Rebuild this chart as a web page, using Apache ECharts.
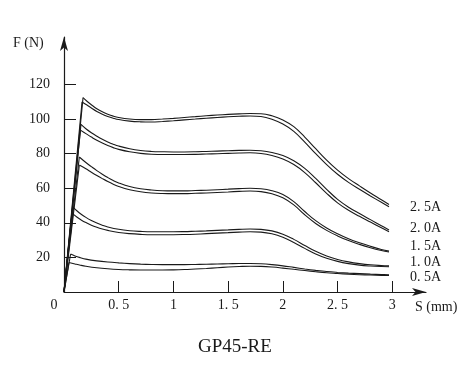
<!DOCTYPE html>
<html>
<head>
<meta charset="utf-8">
<script src="https://cdn.jsdelivr.net/npm/echarts@6/dist/echarts.min.js"></script>
<style>
html,body{margin:0;padding:0;background:#fff;}
#chart{width:461px;height:367px;}
</style>
</head>
<body>
<div id="chart"></div>
<script>
// Current labels
var currents = ['2. 5A', '2. 0A', '1. 5A', '1. 0A', '0. 5A'];

// Force F (N) vs stroke S (mm); each current gives an outer and an inner curve
var c25Outer = [[0.174,112.3],[0.21,110.2],[0.25,108.2],[0.3,105.9],[0.35,104.1],[0.4,102.7],[0.45,101.6],[0.5,100.8],[0.6,99.9],[0.7,99.6],[0.8,99.6],[0.9,99.9],[1.0,100.3],[1.1,100.8],[1.2,101.3],[1.3,101.8],[1.4,102.2],[1.5,102.6],[1.6,102.9],[1.7,103.1],[1.8,103],[1.9,101.8],[2.0,99.4],[2.1,95.5],[2.2,89.5],[2.3,82.8],[2.4,76.2],[2.5,70.4],[2.6,65.5],[2.7,61.3],[2.8,57.2],[2.9,53.3],[2.97,50.5]];
var c25Inner = [[0.165,109.8],[0.21,108],[0.25,106.3],[0.3,104.3],[0.35,102.7],[0.4,101.4],[0.45,100.4],[0.5,99.6],[0.6,98.7],[0.7,98.3],[0.8,98.2],[0.9,98.5],[1.0,98.9],[1.1,99.4],[1.2,99.9],[1.3,100.4],[1.4,100.8],[1.5,101.2],[1.6,101.5],[1.7,101.7],[1.8,101.4],[1.9,99.8],[2.0,97],[2.1,92.8],[2.2,86.6],[2.3,79.9],[2.4,73.6],[2.5,68],[2.6,63.3],[2.7,59.3],[2.8,55.5],[2.9,51.8],[2.97,49.2]];

var c20Outer = [[0.155,96.8],[0.2,94.3],[0.25,92],[0.3,90],[0.35,88.2],[0.4,86.7],[0.45,85.4],[0.5,84.3],[0.6,82.7],[0.7,81.7],[0.8,81.2],[0.9,81],[1.0,80.9],[1.1,80.9],[1.2,81],[1.3,81.2],[1.4,81.4],[1.5,81.6],[1.6,81.8],[1.7,81.9],[1.8,81.6],[1.9,80.6],[2.0,78.8],[2.1,75.8],[2.2,71.4],[2.3,65.6],[2.4,59.3],[2.5,53.5],[2.6,49],[2.7,45.3],[2.8,41.8],[2.9,38.3],[2.97,35.8]];
var c20Inner = [[0.15,93.5],[0.2,91.5],[0.25,89.5],[0.3,87.6],[0.35,86],[0.4,84.6],[0.45,83.4],[0.5,82.4],[0.6,81],[0.7,80.1],[0.8,79.6],[0.9,79.4],[1.0,79.4],[1.1,79.4],[1.2,79.5],[1.3,79.7],[1.4,79.9],[1.5,80.1],[1.6,80.3],[1.7,80.4],[1.8,80],[1.9,78.8],[2.0,76.8],[2.1,73.6],[2.2,69],[2.3,63.1],[2.4,57],[2.5,51.5],[2.6,47.2],[2.7,43.7],[2.8,40.4],[2.9,37.1],[2.97,34.8]];

var c15Outer = [[0.14,78],[0.2,74.8],[0.25,72.4],[0.3,70.1],[0.35,68],[0.4,66.1],[0.45,64.4],[0.5,63],[0.6,60.9],[0.7,59.6],[0.8,58.9],[0.9,58.5],[1.0,58.4],[1.1,58.4],[1.2,58.6],[1.3,58.8],[1.4,59.1],[1.5,59.4],[1.6,59.7],[1.7,59.9],[1.8,59.6],[1.9,58.5],[2.0,56.3],[2.1,52.2],[2.2,46.5],[2.3,41.2],[2.4,37],[2.5,33.6],[2.6,30.7],[2.7,28.4],[2.8,26.4],[2.9,24.6],[2.97,23.6]];
var c15Inner = [[0.14,73.3],[0.2,71.2],[0.25,69.2],[0.3,67.3],[0.35,65.5],[0.4,63.8],[0.45,62.3],[0.5,61],[0.6,59.1],[0.7,57.9],[0.8,57.2],[0.9,56.9],[1.0,56.8],[1.1,56.8],[1.2,57],[1.3,57.2],[1.4,57.5],[1.5,57.8],[1.6,58.1],[1.7,58.3],[1.8,58],[1.9,56.8],[2.0,54.4],[2.1,50.3],[2.2,44.6],[2.3,39.6],[2.4,35.6],[2.5,32.4],[2.6,29.7],[2.7,27.5],[2.8,25.6],[2.9,24],[2.97,23.1]];

var c10Outer = [[0.08,49.2],[0.12,46.8],[0.16,44.8],[0.2,43.1],[0.25,41.3],[0.3,39.8],[0.35,38.6],[0.4,37.6],[0.5,36.2],[0.6,35.4],[0.7,35],[0.8,34.8],[0.9,34.8],[1.0,34.8],[1.1,34.9],[1.2,35.1],[1.3,35.3],[1.4,35.6],[1.5,35.9],[1.6,36.2],[1.7,36.4],[1.8,36.2],[1.9,35.3],[2.0,33.4],[2.1,30.4],[2.2,26.9],[2.3,23.5],[2.4,20.8],[2.5,18.8],[2.6,17.4],[2.7,16.4],[2.8,15.7],[2.9,15.3],[2.97,15.1]];
var c10Inner = [[0.075,45.4],[0.12,43.2],[0.16,41.5],[0.2,40.1],[0.25,38.6],[0.3,37.4],[0.35,36.4],[0.4,35.6],[0.5,34.4],[0.6,33.7],[0.7,33.3],[0.8,33.1],[0.9,33.1],[1.0,33.1],[1.1,33.2],[1.2,33.4],[1.3,33.7],[1.4,34],[1.5,34.3],[1.6,34.6],[1.7,34.8],[1.8,34.6],[1.9,33.6],[2.0,31.6],[2.1,28.6],[2.2,25.2],[2.3,22],[2.4,19.5],[2.5,17.7],[2.6,16.4],[2.7,15.5],[2.8,15],[2.9,14.7],[2.97,14.6]];

var c05Outer = [[0.06,21.9],[0.1,20.8],[0.15,19.8],[0.2,19],[0.3,18],[0.4,17.3],[0.5,16.8],[0.6,16.4],[0.7,16.1],[0.8,15.9],[0.9,15.8],[1.0,15.8],[1.1,15.8],[1.2,15.9],[1.3,16],[1.4,16.2],[1.5,16.3],[1.6,16.5],[1.7,16.5],[1.8,16.3],[1.9,15.8],[2.0,15.1],[2.1,14.2],[2.2,13.3],[2.3,12.5],[2.4,11.8],[2.5,11.3],[2.6,10.9],[2.7,10.6],[2.8,10.3],[2.9,10.1],[2.97,10]];
var c05Inner = [[0.045,17],[0.1,16.2],[0.15,15.5],[0.2,14.9],[0.3,14],[0.4,13.4],[0.5,13],[0.6,12.8],[0.7,12.7],[0.8,12.7],[0.9,12.7],[1.0,12.8],[1.1,13],[1.2,13.3],[1.3,13.6],[1.4,14],[1.5,14.4],[1.6,14.7],[1.7,14.9],[1.8,14.8],[1.9,14.4],[2.0,13.8],[2.1,13.1],[2.2,12.4],[2.3,11.7],[2.4,11.1],[2.5,10.7],[2.6,10.3],[2.7,10],[2.8,9.8],[2.9,9.6],[2.97,9.5]];

var origin = [0, 0];

// Axis ticks and labels
var xTickValues = [0, 0.5, 1, 1.5, 2, 2.5, 3];
var xTickLabels = ['0', '0. 5', '1', '1. 5', '2', '2. 5', '3'];
var yTickValues = [20, 40, 60, 80, 100, 120];
var yTickLabels = ['20', '40', '60', '80', '100', '120'];

var outerCurves = [c25Outer, c20Outer, c15Outer, c10Outer, c05Outer];
var innerCurves = [c25Inner, c20Inner, c15Inner, c10Inner, c05Inner];

var FONT = '"Liberation Serif", "DejaVu Serif", serif';
var INK = '#1a1a1a';
// pixel nudges of the current labels relative to each curve's end
var labelDx = 21;
var labelDy = [2.5, -1.5, -5.3, -3.2, 2.2];

var series = [];
currents.forEach(function (name, i) {
  var lineStyle = { color: INK, width: 1.1 };
  series.push({
    type: 'line', name: name, data: outerCurves[i], smooth: 0.4, showSymbol: false, symbol: 'none',
    lineStyle: lineStyle, silent: true
  });
  series.push({
    type: 'line', data: innerCurves[i], smooth: 0.4, showSymbol: false, symbol: 'none',
    lineStyle: lineStyle, silent: true
  });
  series.push({
    type: 'line', data: [origin, outerCurves[i][0]], showSymbol: false, symbol: 'none',
    lineStyle: lineStyle, silent: true
  });
  series.push({
    type: 'line', data: [origin, innerCurves[i][0]], showSymbol: false, symbol: 'none',
    lineStyle: lineStyle, silent: true
  });
});

var chart = echarts.init(document.getElementById('chart'), null, { renderer: 'canvas' });
chart.setOption({
  animation: false,
  backgroundColor: '#ffffff',
  title: [
    { text: 'F (N)', left: 13, top: 36, padding: 0, textStyle: { fontFamily: FONT, fontSize: 14, fontWeight: 'normal', color: INK } },
    { text: 'S (mm)', left: 415, top: 300, padding: 0, textStyle: { fontFamily: FONT, fontSize: 14, fontWeight: 'normal', color: INK } },
    { text: 'GP45-RE', left: 198, top: 338, padding: 0, textStyle: { fontFamily: FONT, fontSize: 19, fontWeight: 'normal', color: INK } }
  ],
  grid: { left: 64, top: 37, width: 362, height: 255 },
  xAxis: {
    type: 'value', min: 0, max: 3.308,
    axisLine: { show: true, symbol: ['none', 'arrow'], symbolSize: [6, 14], lineStyle: { color: INK, width: 1.2 } },
    axisTick: { show: true, inside: true, length: 11, customValues: xTickValues.slice(1), lineStyle: { color: INK, width: 1 } },
    axisLabel: {
      show: true, customValues: xTickValues, margin: 6, color: INK, fontFamily: FONT, fontSize: 14,
      formatter: function (v) {
        var idx = xTickValues.indexOf(v);
        var t = idx >= 0 ? xTickLabels[idx] : '';
        return v === 0 ? '{o|' + t + '}' : t;
      },
      rich: { o: { padding: [0, 20, 0, 0], fontFamily: FONT, fontSize: 14, color: INK } }
    },
    splitLine: { show: false }
  },
  yAxis: {
    type: 'value', min: 0, max: 147.3,
    axisLine: { show: true, symbol: ['none', 'arrow'], symbolSize: [6, 14], lineStyle: { color: INK, width: 1.2 } },
    axisTick: { show: true, inside: true, length: 12, customValues: yTickValues, lineStyle: { color: INK, width: 1 } },
    axisLabel: {
      show: true, customValues: yTickValues, margin: 14, color: INK, fontFamily: FONT, fontSize: 14,
      formatter: function (v) {
        var idx = yTickValues.indexOf(v);
        return idx >= 0 ? yTickLabels[idx] : '';
      }
    },
    splitLine: { show: false }
  },
  series: series
});

// Current labels placed next to the end of each outer curve
var labels = currents.map(function (name, i) {
  var end = outerCurves[i][outerCurves[i].length - 1];
  var p = chart.convertToPixel({ gridIndex: 0 }, end);
  return {
    type: 'text', x: p[0] + labelDx, y: p[1] + labelDy[i], silent: true,
    style: { text: name, fill: INK, font: '14px ' + FONT, textAlign: 'left', textVerticalAlign: 'middle', verticalAlign: 'middle' }
  };
});
chart.setOption({ graphic: labels });
</script>
</body>
</html>
